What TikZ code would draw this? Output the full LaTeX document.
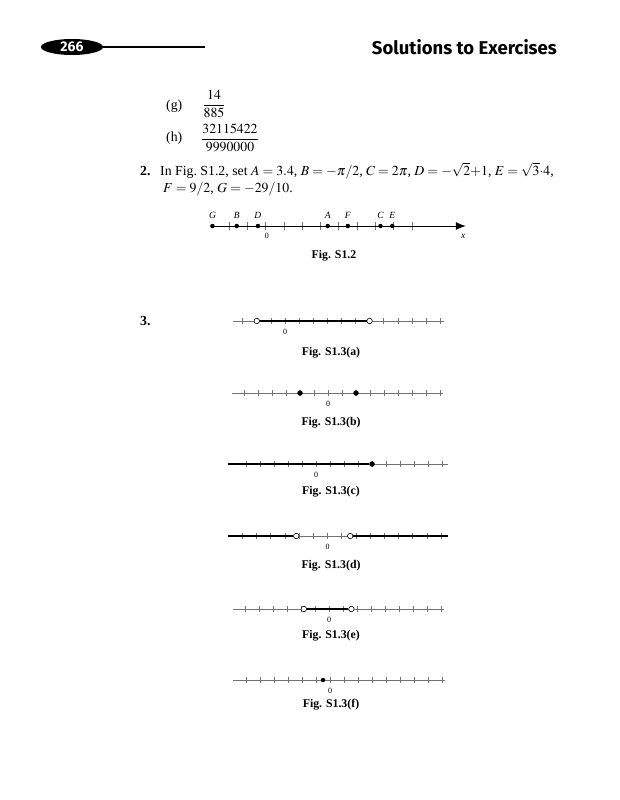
\documentclass[tikz,border=0pt]{standalone}
\usepackage{amsmath}
\usepackage{mathptmx}
\usepackage[no-math]{fontspec}
\setmainfont{Liberation Serif}
\newfontfamily\headfont{Fira Sans}
\usetikzlibrary{arrows.meta,shapes.geometric}

\tikzset{
  numline/.style={draw=black!55, line width=0.6pt},
  tickmark/.style={draw=black!55, line width=0.5pt},
  thickseg/.style={draw=black, line width=1.8pt},
  opendot/.style={circle, draw=black, line width=0.6pt, fill=white,
                  inner sep=0pt, minimum size=5.5pt},
  fulldot/.style={circle, fill=black, inner sep=0pt, minimum size=5.5pt},
  zerolbl/.style={font=\fontsize{8}{9}\selectfont, inner sep=0pt},
  ptlbl/.style={font=\fontsize{9.5}{10}\selectfont\itshape, inner sep=0pt},
  figcap/.style={font=\fontsize{11.8}{13}\selectfont\bfseries, inner sep=0pt},
  body/.style={font=\fontsize{13.8}{16}\selectfont, inner sep=0pt, anchor=base west}
}

\begin{document}
\begin{tikzpicture}[x=1pt, y=-1pt]
\useasboundingbox[fill=white] (0,0) rectangle (620,800);

% running head
\node[ellipse, fill=black, text=white, minimum width=62pt, minimum height=16pt,
      inner sep=0pt, font=\headfont\bfseries\fontsize{14}{15}\selectfont] (pgno) at (72,47) {266};
\coordinate (ruleend) at (205,47);
\draw[line width=1.6pt] (pgno.east) -- (ruleend);
\node[anchor=east, inner sep=0pt, font=\headfont\bfseries\fontsize{18.5}{20}\selectfont]
      (runhead) at (557,47) {Solutions to Exercises};

% answers (g), (h)
\node[body] (itemg) at (166,109) {(g)};
\node[font=\fontsize{13.8}{16}\selectfont] (fracg) at (214,104) {$\dfrac{14}{885}$};
\node[body] (itemh) at (166,141) {(h)};
\node[font=\fontsize{13.8}{16}\selectfont] (frach) at (230,138) {$\dfrac{32115422}{9990000}$};

% exercise 2
\node[body] (ex2) at (140,175) {\textbf{2.}};
\node[body] (ex2a) at (160,175) {In Fig.~S1.2, set $A=3.4$, $B=-\pi/2$, $C=2\pi$, $D=-\sqrt{2}{+}1$, $E=\sqrt{3}{\cdot}4$,};
\node[body] (ex2b) at (163,192) {$F=9/2$, $G=-29/10$.};

% Fig. S1.2
\begin{scope}[shift={(265.5,226)}, xscale=18.3]
  \coordinate (s2R) at (10.95,0);
  \foreach \t in {-2,...,8}
    \draw[tickmark] (\t,-4) -- (\t,4);
  \foreach \v/\nm in {-2.9/G,-1.5708/B,-0.4142/D,3.4/A,4.5/F,6.2832/C,6.9282/E} {
    \node[fulldot, minimum size=4.5pt] (pt\nm) at (\v,0) {};
    \node[ptlbl] (lbl\nm) at (\v,-11) {\nm};
  }
  \draw[line width=0.8pt, -{Latex[length=10pt, width=8pt]}] (ptG.center) -- (s2R);
  \node[zerolbl] (s2zero) at (0.08,10) {0};
  \node[ptlbl] (s2x) at (10.8,10) {x};
\end{scope}
\node[figcap] (capS2) at (334,256) {Fig. S1.2};

% exercise 3
\node[body] (ex3) at (140,325) {\textbf{3.}};

% (a)
\begin{scope}[shift={(285,321)}, xscale=14.1]
  \coordinate (aL) at (-3.69,0);
  \coordinate (aR) at (11.28,0);
  \draw[numline] (aL) -- (aR);
  \foreach \t in {-3,...,11}
    \draw[tickmark] (\t,-3) -- (\t,3);
  \node[opendot] (aO1) at (-2,0) {};
  \node[opendot] (aO2) at (6,0) {};
  \draw[thickseg] (aO1) -- (aO2);
  \node[zerolbl] (a0) at (0,11) {0};
\end{scope}
\node[figcap] (capA) at (331,353) {Fig. S1.3(a)};

% (b)
\begin{scope}[shift={(328,393)}, xscale=14]
  \coordinate (bL) at (-6.86,0);
  \coordinate (bR) at (8.21,0);
  \draw[numline] (bL) -- (bR);
  \foreach \t in {-6,...,8}
    \draw[tickmark] (\t,-3) -- (\t,3);
  \node[fulldot] (bD1) at (-2,0) {};
  \node[fulldot] (bD2) at (2,0) {};
  \node[zerolbl] (b0) at (0,11) {0};
\end{scope}
\node[figcap] (capB) at (331,423) {Fig. S1.3(b)};

% (c)
\begin{scope}[shift={(316,464)}, xscale=14]
  \coordinate (cL) at (-6.29,0);
  \coordinate (cR) at (9.43,0);
  \draw[numline] (cL) -- (cR);
  \foreach \t in {-5,...,9}
    \draw[tickmark] (\t,-3) -- (\t,3);
  \node[fulldot] (cD) at (4,0) {};
  \draw[thickseg] (cL) -- (cD);
  \node[zerolbl] (c0) at (0,11) {0};
\end{scope}
\node[figcap] (capC) at (331,492) {Fig. S1.3(c)};

% (d)
\begin{scope}[shift={(327.5,536)}, xscale=14.2]
  \coordinate (dL) at (-7.0,0);
  \coordinate (dR) at (8.49,0);
  \draw[numline] (dL) -- (dR);
  \foreach \t in {-6,...,8}
    \draw[tickmark] (\t,-3) -- (\t,3);
  \node[opendot] (dO1) at (-2.2,0) {};
  \node[opendot] (dO2) at (1.6,0) {};
  \draw[thickseg] (dL) -- (dO1);
  \draw[thickseg] (dO2) -- (dR);
  \node[zerolbl] (d0) at (0,11) {0};
\end{scope}
\node[figcap] (capD) at (331,566) {Fig. S1.3(d)};

% (e)
\begin{scope}[shift={(329,609)}, xscale=14]
  \coordinate (eL) at (-6.86,0);
  \coordinate (eR) at (8.2,0);
  \draw[numline] (eL) -- (eR);
  \foreach \t in {-6,...,8}
    \draw[tickmark] (\t,-3) -- (\t,3);
  \node[opendot] (eO1) at (-1.8,0) {};
  \node[opendot] (eO2) at (1.6,0) {};
  \draw[thickseg] (eO1) -- (eO2);
  \node[zerolbl] (e0) at (0,11) {0};
\end{scope}
\node[figcap] (capE) at (331,636) {Fig. S1.3(e)};

% (f)
\begin{scope}[shift={(330,680)}, xscale=14]
  \coordinate (fL) at (-6.9,0);
  \coordinate (fR) at (8.2,0);
  \draw[numline] (fL) -- (fR);
  \foreach \t in {-6,...,8}
    \draw[tickmark] (\t,-3) -- (\t,3);
  \node[fulldot, minimum size=4.5pt] (fD) at (-0.5,0) {};
  \node[zerolbl] (f0) at (0,11) {0};
\end{scope}
\node[figcap] (capF) at (331,705) {Fig. S1.3(f)};

\end{tikzpicture}
\end{document}
